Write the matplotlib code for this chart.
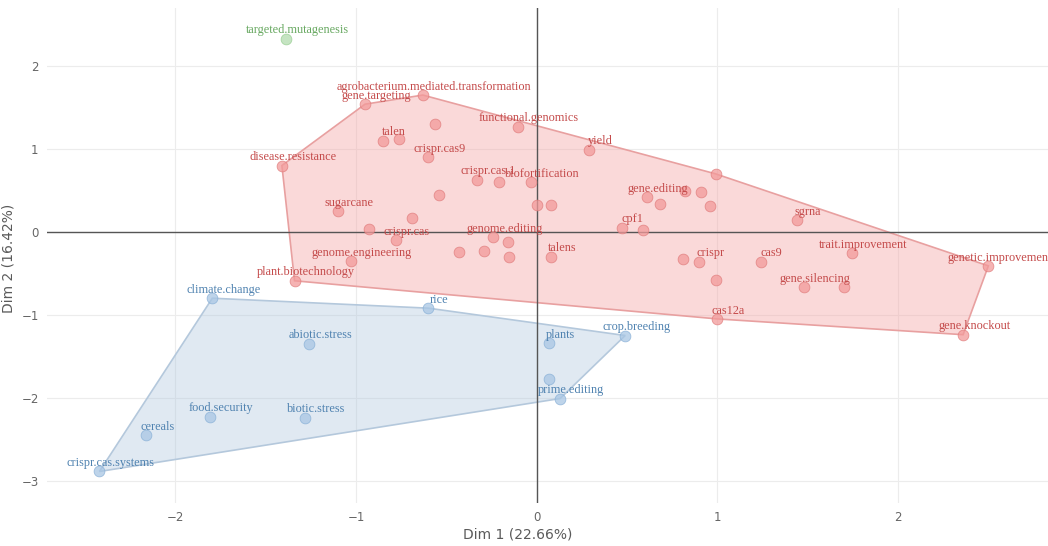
import numpy as np
import matplotlib.pyplot as plt

# keyword coordinates on the first two dimensions, by cluster
red_words = [
    "disease.resistance", "gene.targeting", "agrobacterium.mediated.transformation", "",
    "talen", "", "crispr.cas9", "functional.genomics", "yield",
    "crispr.cas.1", "", "biofortification", "", "", "",
    "sugarcane", "", "", "crispr.cas", "genome.editing", "", "", "", "",
    "talens", "genome.engineering", "plant.biotechnology",
    "", "gene.editing", "", "", "", "cpf1", "", "sgrna", "", "crispr", "",
    "cas9", "gene.silencing", "", "cas12a", "trait.improvement",
    "genetic.improvement", "gene.knockout", "",
]
red_x = [
    -1.41, -0.95, -0.63, -0.56,
    -0.85, -0.76, -0.60, -0.105, 0.29,
    -0.33, -0.21, -0.03, -0.54, 0.00, 0.08,
    -1.10, -0.69, -0.93, -0.78, -0.24, -0.16, -0.43, -0.29, -0.155,
    0.08, -1.03, -1.34,
    0.99, 0.61, 0.68, 0.82, 0.91, 0.47, 0.96, 1.44, 0.81, 0.90, 0.99,
    1.24, 1.48, 1.70, 1.00, 1.745,
    2.50, 2.36, 0.59,
]
red_y = [
    0.80, 1.54, 1.65, 1.30,
    1.10, 1.12, 0.90, 1.27, 0.99,
    0.63, 0.60, 0.60, 0.45, 0.33, 0.32,
    0.25, 0.17, 0.04, -0.10, -0.06, -0.12, -0.24, -0.23, -0.30,
    -0.30, -0.35, -0.59,
    0.70, 0.42, 0.34, 0.49, 0.48, 0.05, 0.31, 0.14, -0.33, -0.36, -0.58,
    -0.36, -0.67, -0.67, -1.05, -0.26,
    -0.41, -1.24, 0.02,
]

blue_words = ["climate.change", "abiotic.stress", "food.security", "biotic.stress",
              "cereals", "crispr.cas.systems", "rice", "plants", "crop.breeding",
              "", "prime.editing"]
blue_x = [-1.795, -1.26, -1.81, -1.28, -2.16, -2.42, -0.60, 0.07, 0.49, 0.07, 0.13]
blue_y = [-0.80, -1.35, -2.23, -2.24, -2.45, -2.89, -0.92, -1.34, -1.25, -1.78, -2.01]

green_words = ["targeted.mutagenesis"]
green_x = [-1.385]
green_y = [2.33]

x_title = "Dim 1 (22.66%)"
y_title = "Dim 2 (16.42%)"


def convex_hull(xs, ys):
    pts = sorted(set(zip(xs, ys)))

    def cross(o, a, b):
        return (a[0] - o[0]) * (b[1] - o[1]) - (a[1] - o[1]) * (b[0] - o[0])

    lower, upper = [], []
    for p in pts:
        while len(lower) >= 2 and cross(lower[-2], lower[-1], p) <= 0:
            lower.pop()
        lower.append(p)
    for p in reversed(pts):
        while len(upper) >= 2 and cross(upper[-2], upper[-1], p) <= 0:
            upper.pop()
        upper.append(p)
    return np.array(lower[:-1] + upper[:-1])


fig = plt.figure(figsize=(10.48, 5.46), dpi=100)
ax = fig.add_axes([47 / 1048, 43 / 546, 1 - 47 / 1048, (503 - 8) / 546])

# words, x, y, marker, marker edge, text, hull fill, hull edge, fill alpha
groups = [
    (red_words, red_x, red_y, "#f29a9a", "#e07a7a", "#c44a4a",
     "#f4a6a6", "#e8a0a0", 0.42),
    (blue_words, blue_x, blue_y, "#a8c6e4", "#86aed6", "#4f82b0",
     "#aec7de", "#b4c8dc", 0.38),
    (green_words, green_x, green_y, "#b2dcae", "#95cc8f", "#67a860",
     None, None, 0),
]

for words, xs, ys, mcol, ecol, tcol, fcol, hcol, falpha in groups:
    if fcol is not None:
        hull = convex_hull(xs, ys)
        ax.fill(hull[:, 0], hull[:, 1], facecolor=fcol, alpha=falpha,
                edgecolor="none", zorder=1)
        ax.fill(hull[:, 0], hull[:, 1], facecolor="none",
                edgecolor=hcol, linewidth=1.2, zorder=1)
    ax.scatter(xs, ys, s=60, color=mcol, alpha=0.75, edgecolors=ecol,
               linewidths=0.6, zorder=3)
    for w, x, y in zip(words, xs, ys):
        if w:
            ax.annotate(w, (x, y), xytext=(8, 6), textcoords="offset points",
                        ha="center", va="center", fontsize=8.8,
                        family="Liberation Serif", color=tcol, zorder=4)

ax.axhline(0, color="#555555", linewidth=1.0, zorder=2)
ax.axvline(0, color="#555555", linewidth=1.0, zorder=2)

ax.set_xlim(-2.71, 2.83)
ax.set_ylim(-3.27, 2.70)
ax.set_xticks([-2, -1, 0, 1, 2])
ax.set_yticks([-3, -2, -1, 0, 1, 2])
ax.grid(True, color="#ececec", linewidth=0.8, zorder=0)
ax.set_axisbelow(True)
for s in ax.spines.values():
    s.set_visible(False)
ax.tick_params(length=0, labelsize=8.5, labelcolor="#666666", pad=6)

fig.text(518 / 1048, 1 - 535 / 546, x_title, ha="center", va="center",
         fontsize=10, color="#5a5a5a")
fig.text(9 / 1048, 1 - 258 / 546, y_title, ha="center", va="center",
         rotation=90, fontsize=10, color="#5a5a5a")

fig.savefig("out.png", dpi=100)
